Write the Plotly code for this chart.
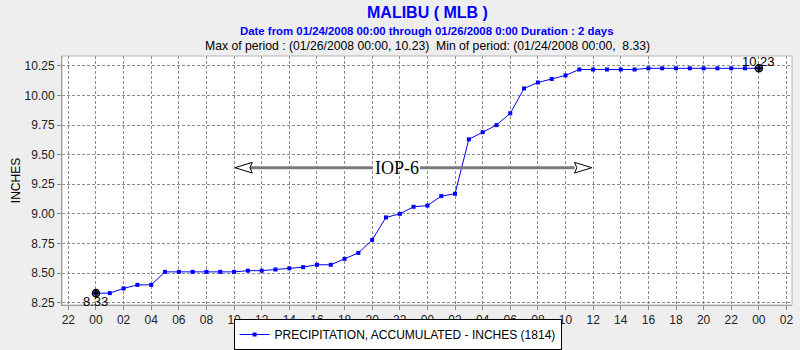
import plotly.graph_objects as go

# ---- data ----
hours = list(range(0, 49))  # hours since 01/24/2008 00:00
values = [8.33, 8.33, 8.37, 8.40, 8.40, 8.51, 8.51, 8.51, 8.51, 8.51,
          8.51, 8.52, 8.52, 8.53, 8.54, 8.55, 8.57, 8.57, 8.62, 8.67,
          8.78, 8.97, 9.00, 9.06, 9.07, 9.15, 9.17, 9.63, 9.69, 9.75,
          9.85, 10.06, 10.11, 10.14, 10.17, 10.22, 10.22, 10.22, 10.22, 10.22,
          10.23, 10.23, 10.23, 10.23, 10.23, 10.23, 10.23, 10.23, 10.23]
tick_hours = list(range(-2, 51, 2))
tick_labels = ["%02d" % (h % 24) for h in tick_hours]
y_ticks = [8.25, 8.50, 8.75, 9.00, 9.25, 9.50, 9.75, 10.00, 10.25]
y_tick_labels = ["%.2f" % v for v in y_ticks]
series_name = "PRECIPITATION, ACCUMULATED - INCHES (1814)"
title = "MALIBU ( MLB )"
subtitle = "Date from 01/24/2008 00:00 through 01/26/2008 0:00 Duration : 2 days"
stats_line = "Max of period : (01/26/2008 00:00, 10.23)  Min of period: (01/24/2008 00:00,  8.33)"
event_label = "IOP-6"
event_y = 9.39
event_left, event_right = 10.07, 35.9
event_text_x = 21.8
event_gap = (20.06, 23.46)

BLUE = "#0000FF"
GRID = "#8c8c8c"
SANS = "Liberation Sans, Arial, sans-serif"

H, T, B = 350, 56, 45
PLOT_H = H - T - B


def py(pix):
    """paper y for a pixel row measured from the top of the page"""
    return (H - B - pix) / PLOT_H


fig = go.Figure()
fig.add_trace(go.Scatter(
    x=hours, y=values, mode="lines+markers", name=series_name,
    line=dict(color=BLUE, width=1),
    marker=dict(symbol="square", size=4, color=BLUE),
))

# min / max markers
i_min = values.index(min(values))
i_max = len(values) - 1 - values[::-1].index(max(values))
fig.add_trace(go.Scatter(
    x=[hours[i_min], hours[i_max]], y=[values[i_min], values[i_max]],
    mode="markers", showlegend=False, hoverinfo="skip",
    marker=dict(symbol="circle-cross-open", size=7, color="#000000",
                line=dict(color="#000000", width=1.6)),
))
fig.add_annotation(x=hours[i_min], y=values[i_min], text="%.2f" % values[i_min],
                   showarrow=False, yshift=-8, font=dict(family=SANS, size=13, color="#000"))
fig.add_annotation(x=hours[i_max], y=values[i_max], text="%.2f" % values[i_max],
                   showarrow=False, yshift=7, font=dict(family=SANS, size=13, color="#000"))

# IOP-6 event annotation
ah_len = 1.25
ah_notch = 1.08
ah_h = 0.045
line_style = dict(color="#7a7a7a", width=3)
fig.add_shape(type="line", xref="x", yref="y", x0=event_left + ah_notch, x1=event_gap[0],
              y0=event_y, y1=event_y, line=line_style)
fig.add_shape(type="line", xref="x", yref="y", x0=event_gap[1], x1=event_right - ah_len,
              y0=event_y, y1=event_y, line=line_style)
lp = "M %f %f L %f %f L %f %f L %f %f Z" % (
    event_left, event_y, event_left + ah_len, event_y + ah_h,
    event_left + ah_notch, event_y, event_left + ah_len, event_y - ah_h)
rp = "M %f %f L %f %f L %f %f L %f %f Z" % (
    event_right, event_y, event_right - ah_len, event_y + ah_h,
    event_right - ah_notch, event_y, event_right - ah_len, event_y - ah_h)
for p in (lp, rp):
    fig.add_shape(type="path", xref="x", yref="y", path=p,
                  line=dict(color="#000000", width=1), fillcolor="#ffffff")
fig.add_annotation(x=event_text_x, y=event_y, text=event_label, showarrow=False,
                   font=dict(family="Liberation Serif, Times New Roman, serif", size=18, color="#000"))

# titles
fig.add_annotation(xref="paper", yref="paper", x=0.5, y=py(12), text="<b>" + title + "</b>",
                   showarrow=False, font=dict(family=SANS, size=16, color=BLUE), yanchor="middle",
                   xanchor="center")
fig.add_annotation(xref="paper", yref="paper", x=0.5, y=py(31), text="<b>" + subtitle + "</b>",
                   showarrow=False, font=dict(family=SANS, size=11.4, color=BLUE), yanchor="middle",
                   xanchor="center")
fig.add_annotation(xref="paper", yref="paper", x=0.5, y=py(46), text=stats_line,
                   showarrow=False, font=dict(family=SANS, size=12.2, color="#000"), yanchor="middle",
                   xanchor="center")

# light plot frame (top/right) drawn as a paper-referenced rectangle
fig.add_shape(type="rect", xref="paper", yref="paper", x0=0, x1=1, y0=0, y1=1,
              line=dict(color="#b4b4b4", width=1), fillcolor="rgba(0,0,0,0)", layer="above")

fig.update_layout(
    width=800, height=350,
    margin=dict(l=62, r=8, t=T, b=B, autoexpand=False),
    paper_bgcolor="#EEEEEE", plot_bgcolor="#FFFFFF",
    showlegend=True,
    legend=dict(orientation="h", xref="container", yref="container", x=0.497, xanchor="center",
                y=0.0, yanchor="bottom", bgcolor="#FFFFFF", bordercolor="#000000", borderwidth=1,
                font=dict(family=SANS, size=12, color="#000"), itemwidth=30,
                tracegroupgap=0),
    xaxis=dict(range=[-2.46, 50.4], tickmode="array", tickvals=tick_hours, ticktext=tick_labels,
               showgrid=True, gridcolor=GRID, griddash="3px,2px", gridwidth=1,
               showline=True, linecolor="#8c8c8c", linewidth=1, mirror=False,
               ticks="outside", ticklen=4, tickcolor="#8c8c8c", zeroline=False,
               tickfont=dict(family=SANS, size=12, color="#222")),
    yaxis=dict(range=[8.23, 10.334], tickmode="array", tickvals=y_ticks, ticktext=y_tick_labels,
               showgrid=True, gridcolor=GRID, griddash="3px,2px", gridwidth=1,
               showline=True, linecolor="#8c8c8c", linewidth=1, mirror=False,
               ticks="outside", ticklen=4, tickcolor="#8c8c8c", zeroline=False,
               tickfont=dict(family=SANS, size=12, color="#222"),
               title=dict(text="INCHES", font=dict(family=SANS, size=12, color="#000"), standoff=1)),
)

fig.write_html("out.html")
